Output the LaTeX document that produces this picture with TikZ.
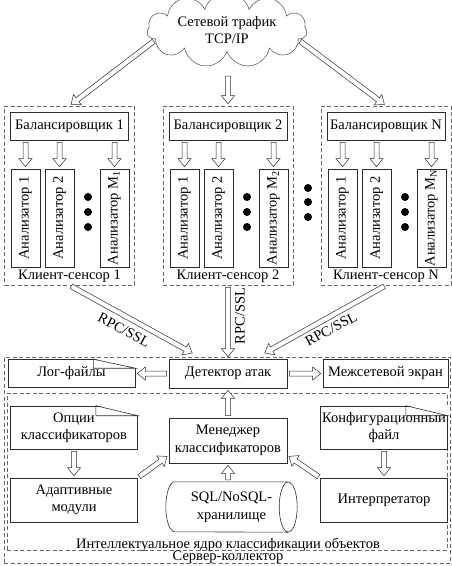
\documentclass[tikz,border=0pt]{standalone}
\usepackage{fontspec}
\setmainfont{Liberation Serif}
\usepackage{graphicx}
\usetikzlibrary{positioning,shapes.geometric,shapes.symbols,calc}
\definecolor{linegray}{RGB}{45,45,45}
\definecolor{dashgray}{RGB}{105,105,105}

\tikzset{
  blk/.style={draw=linegray, line width=0.6pt, fill=white, align=center, inner sep=0pt},
  anbox/.style={blk, minimum width=29pt, minimum height=98pt},
  group/.style={draw=dashgray, line width=0.6pt, dash pattern=on 4pt off 2.5pt, inner sep=0pt},
  fold/.style={draw=linegray, line width=0.6pt},
  fatarrow/.style={draw=linegray, fill=white, line width=0.5pt,
    to path={
      ($($(\tikztostart)!#1!(\tikztotarget)$)!2.5pt!90:(\tikztotarget)$)
      -- ($($(\tikztotarget)!#1+8pt!(\tikztostart)$)!2.5pt!90:(\tikztotarget)$)
      -- ($($(\tikztotarget)!#1+8pt!(\tikztostart)$)!6.5pt!90:(\tikztotarget)$)
      -- ($(\tikztotarget)!#1!(\tikztostart)$)
      -- ($($(\tikztotarget)!#1+8pt!(\tikztostart)$)!6.5pt!-90:(\tikztotarget)$)
      -- ($($(\tikztotarget)!#1+8pt!(\tikztostart)$)!2.5pt!-90:(\tikztotarget)$)
      -- ($($(\tikztostart)!#1!(\tikztotarget)$)!2.5pt!-90:(\tikztotarget)$)
      -- cycle}},
  fatarrow/.default=2pt
}

\begin{document}
\begin{tikzpicture}[x=1pt, y=-1pt, every node/.style={font=\fontsize{14.5}{17.5}\selectfont}]
  \useasboundingbox (0,0) rectangle (452,566);
  % network traffic
  \node[cloud, draw=linegray, fill=white, cloud puffs=11, aspect=3, minimum width=160pt, minimum height=55pt, inner sep=0pt, align=center] (cloud) at (227,30) {Сетевой трафик\\TCP/IP};
  % client sensor 1
  \node[group, minimum width=130pt, minimum height=179pt] (cs1) at (69.5,195.5) {};
  \node[blk, minimum width=118pt, minimum height=28pt] (bal1) at (69.5,126) {Балансировщик 1};
  \node[anbox] (an11) at (25.5,218) {\rotatebox{90}{Анализатор 1}};
  \node[anbox] (an12) at (59.5,218) {\rotatebox{90}{Анализатор 2}};
  \node[anbox] (an1m) at (114.5,218) {\rotatebox{90}{Анализатор M\textsubscript{1}}};
  \fill (88,197) circle (4pt) (88,212) circle (4pt) (88,227) circle (4pt);
  \node (cs1lbl) at (69.5,276) {Клиент-сенсор 1};
  % client sensor 2
  \node[group, minimum width=130pt, minimum height=179pt] (cs2) at (228,195.5) {};
  \node[blk, minimum width=118pt, minimum height=28pt] (bal2) at (228,126) {Балансировщик 2};
  \node[anbox] (an21) at (184.5,218) {\rotatebox{90}{Анализатор 1}};
  \node[anbox] (an22) at (218.5,218) {\rotatebox{90}{Анализатор 2}};
  \node[anbox] (an2m) at (273.5,218) {\rotatebox{90}{Анализатор M\textsubscript{2}}};
  \fill (247,197) circle (4pt) (247,212) circle (4pt) (247,227) circle (4pt);
  \node (cs2lbl) at (228,276) {Клиент-сенсор 2};
  % dots between sensors
  \fill (308,188) circle (4pt) (308,202) circle (4pt) (308,217) circle (4pt);
  % client sensor N
  \node[group, minimum width=130pt, minimum height=179pt] (csN) at (386,195.5) {};
  \node[blk, minimum width=118pt, minimum height=28pt] (balN) at (386,126) {Балансировщик N};
  \node[anbox] (anN1) at (342.5,218) {\rotatebox{90}{Анализатор 1}};
  \node[anbox] (anN2) at (376.5,218) {\rotatebox{90}{Анализатор 2}};
  \node[anbox] (anNm) at (431.5,218) {\rotatebox{90}{Анализатор M\textsubscript{N}}};
  \fill (405,197) circle (4pt) (405,212) circle (4pt) (405,227) circle (4pt);
  \node (csNlbl) at (386,276) {Клиент-сенсор N};
  % traffic to sensors
  \coordinate (trafficout) at (228,74);
  \draw[fatarrow] (cloud.188) to (cs1.north);
  \draw[fatarrow] (trafficout) to (cs2.north);
  \draw[fatarrow] (cloud.-8) to (csN.north);
  \draw[fatarrow] (an11.north |- bal1.south) to (an11.north);
  \draw[fatarrow] (an12.north |- bal1.south) to (an12.north);
  \draw[fatarrow] (an1m.north |- bal1.south) to (an1m.north);
  \draw[fatarrow] (an21.north |- bal2.south) to (an21.north);
  \draw[fatarrow] (an22.north |- bal2.south) to (an22.north);
  \draw[fatarrow] (an2m.north |- bal2.south) to (an2m.north);
  \draw[fatarrow] (anN1.north |- balN.south) to (anN1.north);
  \draw[fatarrow] (anN2.north |- balN.south) to (anN2.north);
  \draw[fatarrow] (anNm.north |- balN.south) to (anNm.north);
  % server collector
  \node[group, minimum width=446pt, minimum height=206pt] (srv) at (227,460) {};
  \node[group, minimum width=440pt, minimum height=157pt] (core) at (227,471.5) {};
  \node[inner sep=0pt] (corelbl) at (228,544.5) {Интеллектуальное ядро классификации объектов};
  \node[inner sep=0pt] (srvlbl) at (228,557.5) {Сервер-коллектор};
  \node[blk, minimum width=118pt, minimum height=29pt] (det) at (228,373.5) {Детектор атак};
  \node[blk, minimum width=127pt, minimum height=28pt] (log) at (71.5,373.5) {Лог-файлы};
  \fill[white] ($(log.north east)+(-42,-0.5)$) -- ($(log.north east)+(0.5,-0.5)$) -- ($(log.north east)+(0.5,9)$) -- cycle;
  \draw[fold] ($(log.north east)+(-42,0)$) -- ++(0,9) -- ($(log.north east)+(0,9)$) -- cycle;
  \node[blk, minimum width=125pt, minimum height=28pt] (fw) at (385.5,373.5) {Межсетевой экран};
  \node[blk, minimum width=127pt, minimum height=43pt] (opt) at (74,427.5) {Опции\\классификаторов};
  \fill[white] ($(opt.north east)+(-42,-0.5)$) -- ($(opt.north east)+(0.5,-0.5)$) -- ($(opt.north east)+(0.5,10)$) -- cycle;
  \draw[fold] ($(opt.north east)+(-42,0)$) -- ++(0,10) -- ($(opt.north east)+(0,10)$) -- cycle;
  \node[blk, minimum width=118pt, minimum height=45pt] (mgr) at (228,440.5) {Менеджер\\классификаторов};
  \node[blk, minimum width=127pt, minimum height=43pt] (cfg) at (384,427.5) {Конфигурационный\\файл};
  \fill[white] ($(cfg.north east)+(-42,-0.5)$) -- ($(cfg.north east)+(0.5,-0.5)$) -- ($(cfg.north east)+(0.5,10)$) -- cycle;
  \draw[fold] ($(cfg.north east)+(-42,0)$) -- ++(0,10) -- ($(cfg.north east)+(0,10)$) -- cycle;
  \node[blk, minimum width=127pt, minimum height=44pt] (adp) at (74,500) {Адаптивные\\модули};
  \node[blk, minimum width=127pt, minimum height=44pt] (itp) at (384,500) {Интерпретатор};
  % storage drawn as a lying cylinder
  \node[minimum width=131pt, minimum height=50pt, inner sep=0pt, align=center] (db) at (231.5,507) {SQL/NoSQL-\\хранилище};
  \draw[fold] ($(db.north east)+(-9,0)$) -- ($(db.north west)+(9,0)$)
    arc[start angle=90, end angle=270, x radius=9pt, y radius=25pt] -- ($(db.south east)+(-9,0)$);
  \draw[fold] ($(db.east)+(-9,0)$) ellipse [x radius=9pt, y radius=25pt];
  % RPC/SSL links
  \coordinate (rpcin1) at (194,354);
  \coordinate (rpcinN) at (263,354);
  \draw[fatarrow] (cs1.south) to (rpcin1);
  \draw[fatarrow] (cs2.south) to (det.north);
  \draw[fatarrow] (csN.south) to (rpcinN);
  \node[rotate=-28] (rpc1lbl) at (124,330) {RPC/SSL};
  \node[rotate=90] (rpc2lbl) at (240,316) {RPC/SSL};
  \node[rotate=28] (rpcNlbl) at (331,329) {RPC/SSL};
  % inside the server
  \draw[fatarrow] (det.west) to (log.east);
  \draw[fatarrow] (det.east) to (fw.west);
  \draw[fatarrow] (mgr.north) to (det.south);
  \draw[fatarrow] (opt.south) to (adp.north);
  \draw[fatarrow] (cfg.south) to (itp.north);
  \draw[fatarrow] (adp.north east) to (mgr.194);
  \draw[fatarrow] (itp.north west) to (mgr.-14);
  \draw[fatarrow] (mgr.south |- db.north) to (mgr.south);
\end{tikzpicture}
\end{document}
